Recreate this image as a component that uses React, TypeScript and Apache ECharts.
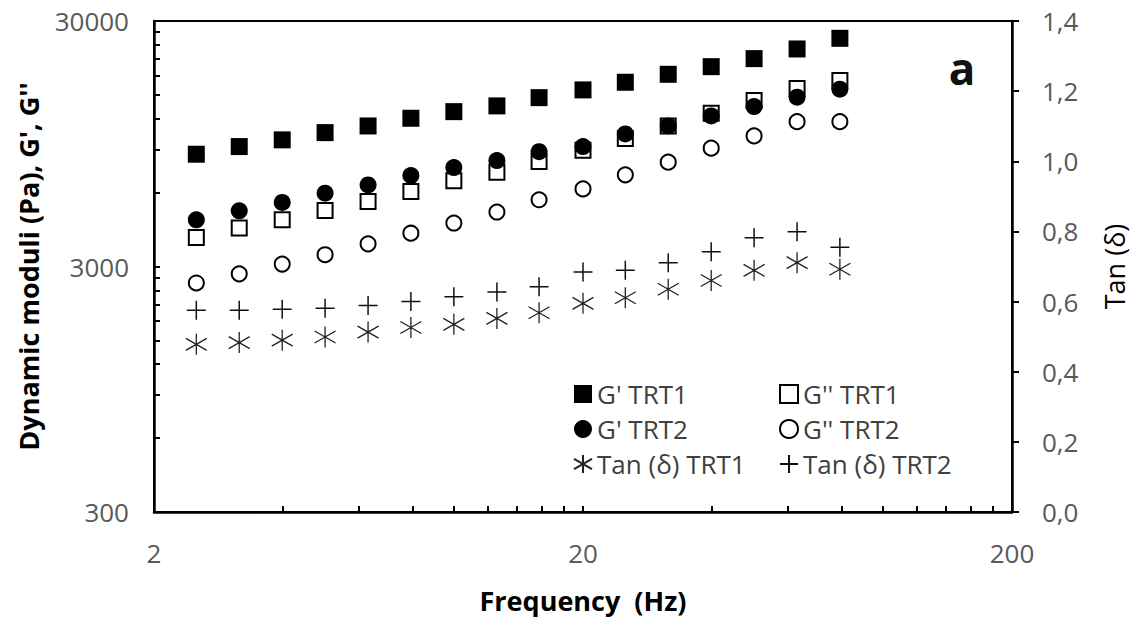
import React, { useEffect, useRef } from "react";
import * as echarts from "echarts";

// ---- data ----
const frequency = [2.51, 3.16, 3.98, 5.01, 6.31, 7.94, 10, 12.6, 15.8, 20, 25.1, 31.6, 39.8, 50.1, 63.1, 79.4];
const gPrimeTRT1 = [8600, 9240, 9840, 10530, 11210, 12050, 12820, 13530, 14620, 15720, 16890, 18200, 19550, 21080, 23080, 25500];
const gDoubleTRT1 = [3940, 4300, 4650, 5070, 5520, 6060, 6700, 7270, 8030, 8930, 9960, 11210, 12630, 14220, 15910, 17150];
const gPrimeTRT2 = [4650, 5060, 5470, 5970, 6450, 7040, 7590, 8100, 8810, 9240, 10400, 11210, 12310, 13440, 14680, 15820];
const gDoubleTRT2 = [2570, 2800, 3070, 3350, 3710, 4100, 4510, 5000, 5610, 6210, 7090, 7980, 9100, 10210, 11670, 11670];
const tanTRT1 = [0.478, 0.483, 0.49, 0.499, 0.513, 0.526, 0.535, 0.552, 0.568, 0.595, 0.611, 0.635, 0.66, 0.689, 0.711, 0.692];
const tanTRT2 = [0.575, 0.575, 0.578, 0.581, 0.589, 0.6, 0.614, 0.627, 0.642, 0.684, 0.689, 0.711, 0.742, 0.782, 0.799, 0.755];

// ---- axis ticks / labels ----
const xLabelValues = [2, 20, 200];
const xTickValues = [2, 4, 6, 8, 10, 12, 14, 16, 18, 20, 40, 60, 80, 100, 120, 140, 160, 180, 200];
const yLabelValues = [300, 3000, 30000];
const yTickValues = [300, 600, 900, 1200, 1500, 1800, 2100, 2400, 2700, 3000, 6000, 9000, 12000, 15000, 18000, 21000, 24000, 27000, 30000];

const seriesNames = ["G' TRT1", "G'' TRT1", "G' TRT2", "G'' TRT2", "Tan (δ) TRT1", "Tan (δ) TRT2"];

const FONT = "'Open Sans', 'Noto Sans', sans-serif";
const ASTERISK = "path://M10.5,0L10.5,21M0,4.5L21,16.5M0,16.5L21,4.5";
const PLUS = "path://M0,9.5L19,9.5M9.5,0L9.5,19";

export default function App() {
  const ref = useRef<HTMLDivElement>(null);

  useEffect(() => {
    const chart = echarts.init(ref.current!, null, { renderer: "svg" });
    const pts = (ys: number[]) => frequency.map((f, i) => [f, ys[i]]);
    const labelStyle = { fontSize: 26, color: "#595959", fontFamily: FONT };
    const axisLine = { show: true, lineStyle: { color: "#000", width: 2.5 } };

    chart.setOption({
      animation: false,
      backgroundColor: "#fff",
      grid: {
        left: 154,
        right: 127,
        top: 21,
        bottom: 110,
        show: true,
        borderColor: "#000",
        borderWidth: 2,
        backgroundColor: "transparent",
      },
      xAxis: {
        type: "log",
        logBase: 10,
        min: 2,
        max: 200,
        axisLine,
        axisTick: { show: true, inside: true, length: 6, customValues: xTickValues, lineStyle: { color: "#000", width: 2 } },
        axisLabel: { customValues: xLabelValues, margin: 28, formatter: (v: number) => String(Math.round(v)), ...labelStyle },
        splitLine: { show: false },
        minorTick: { show: false },
        name: "Frequency  (Hz)",
        nameLocation: "middle",
        nameGap: 75,
        nameTextStyle: { fontSize: 27, fontWeight: "bold", color: "#000", fontFamily: FONT },
      },
      yAxis: [
        {
          type: "log",
          logBase: 10,
          min: 300,
          max: 30000,
          position: "left",
          axisLine,
          axisTick: { show: true, inside: true, length: 6, customValues: yTickValues, lineStyle: { color: "#000", width: 2 } },
          axisLabel: { customValues: yLabelValues, margin: 25, formatter: (v: number) => String(Math.round(v)), ...labelStyle },
          splitLine: { show: false },
          name: "Dynamic moduli (Pa), G', G''",
          nameLocation: "middle",
          nameGap: 112,
          nameRotate: 90,
          nameTextStyle: { fontSize: 27, fontWeight: "bold", color: "#000", fontFamily: FONT },
        },
        {
          type: "value",
          min: 0,
          max: 1.4,
          interval: 0.2,
          position: "right",
          axisLine,
          axisTick: { show: true, inside: false, length: 7, lineStyle: { color: "#000", width: 2 } },
          axisLabel: { margin: 30, formatter: (v: number) => v.toFixed(1).replace(".", ","), ...labelStyle },
          splitLine: { show: false },
          name: "Tan (δ)",
          nameLocation: "middle",
          nameGap: 89,
          nameRotate: 90,
          nameTextStyle: { fontSize: 27, color: "#000", fontFamily: FONT },
        },
      ],
      legend: [
        {
          orient: "vertical",
          left: 568,
          top: 376,
          itemWidth: 18,
          itemHeight: 18,
          itemGap: 9,
          selectedMode: false,
          textStyle: { fontSize: 26, color: "#404040", fontFamily: FONT },
          data: [seriesNames[0], seriesNames[2], seriesNames[4]],
        },
        {
          orient: "vertical",
          left: 774,
          top: 376,
          itemWidth: 18,
          itemHeight: 18,
          itemGap: 9,
          selectedMode: false,
          textStyle: { fontSize: 26, color: "#404040", fontFamily: FONT },
          data: [seriesNames[1], seriesNames[3], seriesNames[5]],
        },
      ],
      graphic: [
        {
          type: "text",
          style: {
            text: "a",
            x: 962,
            y: 68,
            align: "center",
            verticalAlign: "middle",
            fontSize: 44,
            fontWeight: "bold",
            fontFamily: FONT,
            fill: "#111",
          },
        },
      ],
      series: [
        {
          name: seriesNames[0],
          type: "scatter",
          yAxisIndex: 0,
          symbol: "rect",
          symbolSize: 17,
          itemStyle: { color: "#000", opacity: 1 },
          data: pts(gPrimeTRT1),
        },
        {
          name: seriesNames[1],
          type: "scatter",
          yAxisIndex: 0,
          symbol: "rect",
          symbolSize: 15,
          itemStyle: { color: "#fff", borderColor: "#000", borderWidth: 2, opacity: 1 },
          data: pts(gDoubleTRT1),
        },
        {
          name: seriesNames[2],
          type: "scatter",
          yAxisIndex: 0,
          symbol: "circle",
          symbolSize: 17,
          itemStyle: { color: "#000", opacity: 1 },
          data: pts(gPrimeTRT2),
        },
        {
          name: seriesNames[3],
          type: "scatter",
          yAxisIndex: 0,
          symbol: "circle",
          symbolSize: 15,
          itemStyle: { color: "#fff", borderColor: "#000", borderWidth: 2, opacity: 1 },
          data: pts(gDoubleTRT2),
        },
        {
          name: seriesNames[4],
          type: "scatter",
          yAxisIndex: 1,
          symbol: ASTERISK,
          symbolSize: 21,
          itemStyle: { color: "transparent", borderColor: "#222", borderWidth: 1.3, opacity: 1 },
          data: pts(tanTRT1),
        },
        {
          name: seriesNames[5],
          type: "scatter",
          yAxisIndex: 1,
          symbol: PLUS,
          symbolSize: 19,
          itemStyle: { color: "transparent", borderColor: "#111", borderWidth: 1.5, opacity: 1 },
          data: pts(tanTRT2),
        },
      ],
    });
    return () => chart.dispose();
  }, []);

  return (
    <div
      ref={ref}
      style={{ position: "fixed", left: 0, top: 0, width: 1139, height: 622, background: "#fff" }}
    />
  );
}
